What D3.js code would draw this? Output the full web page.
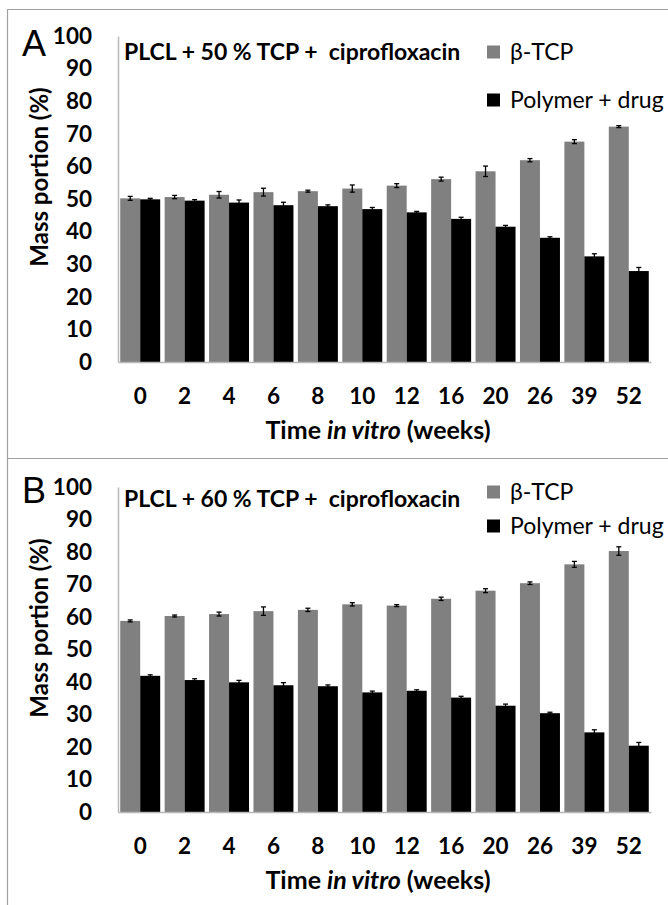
<!DOCTYPE html>
<html><head><meta charset="utf-8">
<script src="https://cdn.jsdelivr.net/npm/d3@7"></script>
<style>
html,body{margin:0;padding:0;background:#fff;}
svg{display:block;font-family:Lato,"Open Sans",sans-serif;}
</style></head>
<body>
<script>
const weeks = ["0","2","4","6","8","10","12","16","20","26","39","52"];
const seriesNames = ["β-TCP","Polymer + drug"];
const yTicks = [0,10,20,30,40,50,60,70,80,90,100];

const tcpA     = [50.2,50.6,51.3,52.1,52.4,53.2,54.1,56.1,58.5,61.9,67.6,72.2];
const tcpAErr  = [0.6,0.5,1.0,1.2,0.3,1.1,0.6,0.6,1.6,0.5,0.6,0.3];
const polyA    = [49.9,49.5,48.9,48.1,47.8,46.9,45.9,43.9,41.5,38.1,32.4,27.9];
const polyAErr = [0.3,0.3,0.8,0.9,0.4,0.5,0.3,0.5,0.4,0.3,0.8,1.1];

const tcpB     = [58.8,60.3,60.9,61.8,62.2,63.9,63.5,65.6,68.1,70.4,76.2,80.3];
const tcpBErr  = [0.3,0.3,0.6,1.3,0.5,0.5,0.3,0.5,0.6,0.4,0.9,1.3];
const polyB    = [41.9,40.6,39.9,39.0,38.7,36.8,37.3,35.2,32.7,30.4,24.5,20.4];
const polyBErr = [0.3,0.4,0.6,0.8,0.4,0.4,0.3,0.4,0.5,0.3,0.8,1.0];

const W = 668, H = 905;
const colors = ["#808080","#000000"];
const axisColor = "#b8b8b8";

const svg = d3.select("body").append("svg").attr("width",W).attr("height",H);

// frame lines
svg.append("line").attr("x1",7).attr("x2",W).attr("y1",9.5).attr("y2",9.5).attr("stroke","#a0a0a0").attr("stroke-width",1.2);
svg.append("line").attr("x1",7.5).attr("x2",7.5).attr("y1",9).attr("y2",H).attr("stroke","#a0a0a0").attr("stroke-width",1.2);
svg.append("line").attr("x1",7).attr("x2",W).attr("y1",458.5).attr("y2",458.5).attr("stroke","#a0a0a0").attr("stroke-width",1.2);

function drawPanel(cfg){
  const g = svg.append("g");
  const x0 = d3.scaleBand().domain(weeks).range([118,651]).paddingInner(0.1).paddingOuter(0.05);
  const x1 = d3.scaleBand().domain([0,1]).range([0,x0.bandwidth()]);
  const y = d3.scaleLinear().domain([0,100]).range([cfg.bottom,cfg.top]);
  const vals = [cfg.tcp,cfg.poly], errs=[cfg.tcpErr,cfg.polyErr];

  // y axis
  const ya = g.append("g").attr("transform","translate(118,0)")
    .call(d3.axisLeft(y).tickValues(yTicks).tickSize(0).tickPadding(26).tickFormat(d3.format("d")));
  ya.select(".domain").attr("stroke",axisColor).attr("stroke-width",1.5);
  ya.selectAll("text").attr("font-size",22.5).attr("font-weight","bold").attr("fill","#000")
    .attr("font-family","Lato");

  // bars
  weeks.forEach((w,i)=>{
    [0,1].forEach(s=>{
      g.append("rect").attr("x",x0(w)+x1(s)).attr("width",x1.bandwidth())
       .attr("y",y(vals[s][i])).attr("height",y(0)-y(vals[s][i])).attr("fill",colors[s]);
    });
  });
  // error bars
  weeks.forEach((w,i)=>{
    [0,1].forEach(s=>{
      const cx = x0(w)+x1(s)+x1.bandwidth()/2;
      const v = vals[s][i], e = errs[s][i];
      const eb = g.append("g").attr("stroke","#000").attr("stroke-width",1.3);
      eb.append("line").attr("x1",cx).attr("x2",cx).attr("y1",y(v+e)).attr("y2",y(v-e));
      eb.append("line").attr("x1",cx-2.5).attr("x2",cx+2.5).attr("y1",y(v+e)).attr("y2",y(v+e));
      eb.append("line").attr("x1",cx-2.5).attr("x2",cx+2.5).attr("y1",y(v-e)).attr("y2",y(v-e));
    });
  });

  // x axis
  const xa = g.append("g").attr("transform",`translate(0,${cfg.bottom})`)
    .call(d3.axisBottom(x0).tickSize(0).tickPadding(26).tickSizeOuter(0));
  xa.select(".domain").attr("stroke",axisColor).attr("stroke-width",1.5);
  xa.selectAll("text").attr("font-size",22.5).attr("font-weight","bold").attr("fill","#000")
    .attr("font-family","Lato");

  // x title
  const xt = g.append("text").attr("x",378).attr("y",cfg.bottom+77).attr("text-anchor","middle")
    .attr("font-size",25).attr("font-weight","bold").attr("font-family","Lato");
  xt.append("tspan").text("Time ");
  xt.append("tspan").attr("font-style","italic").text("in vitro");
  xt.append("tspan").text(" (weeks)");

  // y title
  g.append("text").attr("transform",`translate(48,${cfg.ytitleY}) rotate(-90)`)
    .attr("text-anchor","middle").attr("font-size",24).attr("font-weight","bold")
    .attr("font-family","Lato").text("Mass portion (%)");

  // panel letter
  g.append("text").attr("x",22).attr("y",cfg.letterY).attr("font-size",36)
    .attr("font-family","Liberation Sans").text(cfg.letter);

  // title
  g.append("text").attr("x",124).attr("y",cfg.titleY).attr("dy","0.35em").attr("font-size",23)
    .attr("font-weight","bold").attr("font-family","Lato").style("white-space","pre").text(cfg.title);

  // legend
  seriesNames.forEach((n,k)=>{
    const ly = cfg.legY[k];
    g.append("rect").attr("x",487).attr("y",ly-6.5).attr("width",13).attr("height",13).attr("fill",colors[k]);
    g.append("text").attr("x",510).attr("y",ly).attr("dy","0.35em").attr("font-size",23)
      .attr("font-family","Lato").text(n);
  });
}

drawPanel({letter:"A", top:36, bottom:362, tcp:tcpA, tcpErr:tcpAErr, poly:polyA, polyErr:polyAErr,
  title:"PLCL + 50 % TCP +  ciprofloxacin", titleY:52, legY:[52,100], letterY:56, ytitleY:177});
drawPanel({letter:"B", top:487, bottom:812, tcp:tcpB, tcpErr:tcpBErr, poly:polyB, polyErr:polyBErr,
  title:"PLCL + 60 % TCP +  ciprofloxacin", titleY:499, legY:[492,526], letterY:503, ytitleY:628});
</script>
</body></html>
